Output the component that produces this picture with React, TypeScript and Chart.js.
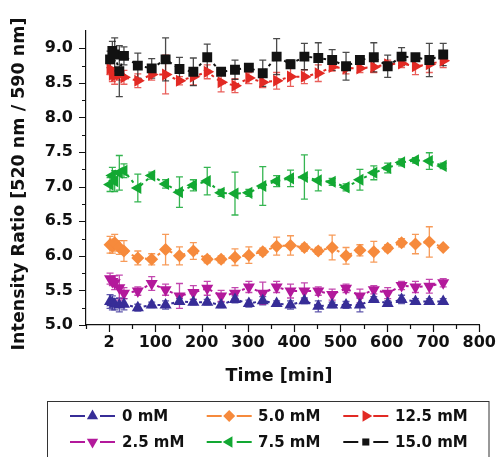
import React, { useEffect, useRef } from 'react';
import { Chart, registerables } from 'chart.js';
import { drawPoint } from 'chart.js/helpers';

Chart.register(...registerables);

// ---- data ----
const TIMES = [2, 7, 12, 22, 32, 62, 92, 122, 152, 182, 212, 242, 272, 302, 332, 362, 392, 422, 452, 482, 512, 542, 572, 602, 632, 662, 692, 722];

const LABELS = ['0 mM', '2.5 mM', '5.0 mM', '7.5 mM', '12.5 mM', '15.0 mM'];

const V_0 = [5.34, 5.32, 5.30, 5.29, 5.30, 5.25, 5.29, 5.29, 5.34, 5.33, 5.33, 5.29, 5.37, 5.31, 5.35, 5.31, 5.29, 5.35, 5.27, 5.29, 5.29, 5.29, 5.37, 5.31, 5.37, 5.34, 5.34, 5.34];
const E_0 = [0.10, 0.10, 0.08, 0.10, 0.08, 0.05, 0.04, 0.06, 0.04, 0.04, 0.04, 0.04, 0.05, 0.05, 0.06, 0.04, 0.06, 0.04, 0.08, 0.04, 0.05, 0.10, 0.04, 0.04, 0.06, 0.04, 0.04, 0.04];

const V_25 = [5.67, 5.63, 5.61, 5.54, 5.46, 5.49, 5.60, 5.51, 5.42, 5.47, 5.53, 5.42, 5.46, 5.55, 5.46, 5.55, 5.49, 5.49, 5.49, 5.44, 5.53, 5.42, 5.51, 5.46, 5.57, 5.55, 5.56, 5.61];
const E_25 = [0.08, 0.06, 0.10, 0.18, 0.08, 0.06, 0.10, 0.08, 0.18, 0.10, 0.10, 0.08, 0.08, 0.08, 0.16, 0.08, 0.10, 0.12, 0.06, 0.08, 0.06, 0.10, 0.06, 0.08, 0.06, 0.08, 0.10, 0.06];

const V_50 = [6.16, 6.14, 6.19, 6.12, 6.07, 5.97, 5.95, 6.09, 6.00, 6.07, 5.95, 5.95, 5.98, 6.01, 6.06, 6.14, 6.15, 6.12, 6.07, 6.12, 6.00, 6.08, 6.06, 6.11, 6.19, 6.17, 6.20, 6.12];
const E_50 = [0.12, 0.10, 0.12, 0.10, 0.15, 0.10, 0.08, 0.22, 0.13, 0.12, 0.05, 0.05, 0.12, 0.12, 0.05, 0.13, 0.14, 0.05, 0.05, 0.18, 0.12, 0.08, 0.15, 0.05, 0.06, 0.14, 0.22, 0.03];

const V_75 = [7.03, 7.16, 7.08, 7.20, 7.23, 6.98, 7.16, 7.04, 6.92, 7.02, 7.08, 6.91, 6.90, 6.91, 7.01, 7.08, 7.12, 7.14, 7.09, 7.07, 6.99, 7.10, 7.20, 7.27, 7.35, 7.38, 7.37, 7.30];
const E_75 = [0.10, 0.12, 0.15, 0.25, 0.10, 0.20, 0.05, 0.06, 0.22, 0.08, 0.20, 0.05, 0.31, 0.05, 0.28, 0.08, 0.12, 0.32, 0.15, 0.05, 0.05, 0.15, 0.10, 0.07, 0.05, 0.04, 0.12, 0.04];

const V_125 = [8.70, 8.62, 8.60, 8.62, 8.58, 8.53, 8.62, 8.62, 8.53, 8.59, 8.66, 8.51, 8.46, 8.57, 8.51, 8.53, 8.59, 8.59, 8.64, 8.73, 8.71, 8.71, 8.73, 8.77, 8.78, 8.74, 8.77, 8.82];
const E_125 = [0.08, 0.10, 0.12, 0.08, 0.10, 0.10, 0.08, 0.28, 0.06, 0.12, 0.10, 0.14, 0.10, 0.08, 0.08, 0.12, 0.14, 0.10, 0.12, 0.06, 0.08, 0.06, 0.08, 0.06, 0.06, 0.12, 0.12, 0.10];

const V_150 = [8.84, 8.96, 8.91, 8.67, 8.89, 8.75, 8.71, 8.84, 8.70, 8.66, 8.87, 8.66, 8.69, 8.72, 8.64, 8.88, 8.77, 8.88, 8.86, 8.83, 8.74, 8.83, 8.87, 8.74, 8.88, 8.87, 8.83, 8.91];
const E_150 = [0.12, 0.14, 0.24, 0.37, 0.13, 0.18, 0.14, 0.31, 0.17, 0.20, 0.19, 0.05, 0.14, 0.05, 0.19, 0.26, 0.06, 0.19, 0.22, 0.15, 0.20, 0.06, 0.21, 0.16, 0.13, 0.05, 0.24, 0.16];

const X_TICKS = [0, 100, 200, 300, 400, 500, 600, 700, 800];
const X_MINOR = [-50, 50, 150, 250, 350, 450, 550, 650, 750];
const Y_TICKS = [5.0, 5.5, 6.0, 6.5, 7.0, 7.5, 8.0, 8.5, 9.0];
const Y_MINOR = [5.25, 5.75, 6.25, 6.75, 7.25, 7.75, 8.25, 8.75];

const LEGEND_ORDER = ['0 mM', '5.0 mM', '12.5 mM', '2.5 mM', '7.5 mM', '15.0 mM'];

// ---- styles ----
const VALUES = [V_0, V_25, V_50, V_75, V_125, V_150];
const ERRORS = [E_0, E_25, E_50, E_75, E_125, E_150];
const STYLES = [
  { color: '#372d97', err: 'rgba(55,45,151,0.8)', pointStyle: 'triangle', rotation: 0, radius: 7, order: 1 },
  { color: '#b3199b', err: 'rgba(179,25,155,0.8)', pointStyle: 'triangle', rotation: 180, radius: 7, order: 2 },
  { color: '#f68a3c', err: 'rgba(246,138,60,0.85)', pointStyle: 'rectRot', rotation: 0, radius: 6.5, order: 3 },
  { color: '#12a832', err: 'rgba(18,168,50,0.85)', pointStyle: 'triangle', rotation: 270, radius: 7, order: 4 },
  { color: '#e22a24', err: 'rgba(226,42,36,0.75)', pointStyle: 'triangle', rotation: 90, radius: 7, order: 6 },
  { color: '#121212', err: 'rgba(30,30,30,0.8)', pointStyle: 'rect', rotation: 0, radius: 7, order: 5 },
];

const FONT = 'DejaVu Sans';

const errorBarsPlugin = {
  id: 'errorBars',
  beforeDatasetsDraw(chart: any) {
    const { ctx } = chart;
    const y = chart.scales.y;
    ctx.save();
    chart.data.datasets.forEach((ds: any, i: number) => {
      const meta = chart.getDatasetMeta(i);
      ctx.strokeStyle = ds.errColor;
      ctx.lineWidth = 1.3;
      ds.data.forEach((p: any, j: number) => {
        const e = ds.errorValues[j];
        const pt = meta.data[j];
        if (!pt) return;
        const px = pt.x;
        const yt = y.getPixelForValue(p.y + e);
        const yb = y.getPixelForValue(p.y - e);
        ctx.beginPath();
        ctx.moveTo(px, yt);
        ctx.lineTo(px, yb);
        ctx.moveTo(px - 3.5, yt);
        ctx.lineTo(px + 3.5, yt);
        ctx.moveTo(px - 3.5, yb);
        ctx.lineTo(px + 3.5, yb);
        ctx.stroke();
      });
    });
    ctx.restore();
  },
};

const decorPlugin = {
  id: 'decor',
  afterDraw(chart: any) {
    const { ctx, chartArea } = chart;
    const x = chart.scales.x;
    const y = chart.scales.y;
    ctx.save();
    // tick marks
    ctx.strokeStyle = '#111';
    ctx.lineWidth = 1.2;
    ctx.beginPath();
    X_TICKS.forEach((v) => {
      const px = Math.round(x.getPixelForValue(v)) + 0.5;
      ctx.moveTo(px, chartArea.bottom);
      ctx.lineTo(px, chartArea.bottom + 7);
    });
    X_MINOR.forEach((v) => {
      const px = Math.round(x.getPixelForValue(v)) + 0.5;
      ctx.moveTo(px, chartArea.bottom);
      ctx.lineTo(px, chartArea.bottom + 4);
    });
    Y_TICKS.forEach((v) => {
      const py = Math.round(y.getPixelForValue(v)) + 0.5;
      ctx.moveTo(chartArea.left, py);
      ctx.lineTo(chartArea.left - 7, py);
    });
    Y_MINOR.forEach((v) => {
      const py = Math.round(y.getPixelForValue(v)) + 0.5;
      ctx.moveTo(chartArea.left, py);
      ctx.lineTo(chartArea.left - 4, py);
    });
    ctx.stroke();

    // axis titles
    ctx.fillStyle = '#111';
    ctx.font = `bold 17.5px "${FONT}"`;
    ctx.textAlign = 'center';
    ctx.textBaseline = 'middle';
    ctx.fillText('Time [min]', 279, 376);
    ctx.save();
    ctx.translate(19, 184);
    ctx.rotate(-Math.PI / 2);
    ctx.fillText('Intensity Ratio [520 nm / 590 nm]', 0, 0);
    ctx.restore();

    // legend
    ctx.strokeStyle = '#333';
    ctx.lineWidth = 1;
    ctx.strokeRect(47.5, 401.5, 441.5, 70);
    const colLine = [70, 206.7, 343.3];
    const colText = [122, 258, 395];
    const rowY = [416, 442];
    ctx.font = `bold 15px "${FONT}"`;
    ctx.textAlign = 'left';
    LEGEND_ORDER.forEach((label, k) => {
      const i = chart.data.datasets.findIndex((d: any) => d.label === label);
      if (i < 0) return;
      const ds = chart.data.datasets[i];
      const st = STYLES[i];
      const r = Math.floor(k / 3);
      const c = k % 3;
      const lx = colLine[c];
      const ly = rowY[r];
      ctx.strokeStyle = ds.borderColor;
      ctx.lineWidth = 2;
      ctx.beginPath();
      ctx.moveTo(lx, ly);
      ctx.lineTo(lx + 15, ly);
      ctx.moveTo(lx + 30, ly);
      ctx.lineTo(lx + 45, ly);
      ctx.stroke();
      ctx.fillStyle = ds.borderColor;
      drawPoint(ctx, {
        pointStyle: st.pointStyle,
        rotation: st.rotation,
        radius: st.pointStyle === 'rect' ? 5 : st.pointStyle === 'rectRot' ? 6 : 6.5,
        borderWidth: 0,
      } as any, lx + 22.5, ly);
      ctx.fillStyle = '#111';
      ctx.fillText(label, colText[c], ly + 1);
    });
    ctx.restore();
  },
};

export default function App() {
  const ref = useRef<HTMLCanvasElement | null>(null);

  useEffect(() => {
    document.body.style.margin = '0';
    if (!ref.current) return;
    const datasets = LABELS.map((label, i) => {
      const st = STYLES[i];
      return {
        label,
        data: TIMES.map((t, j) => ({ x: t, y: VALUES[i][j] })),
        errorValues: ERRORS[i],
        errColor: st.err,
        borderColor: st.color,
        backgroundColor: st.color,
        borderWidth: 2,
        borderDash: [3, 4],
        pointStyle: st.pointStyle,
        rotation: st.rotation,
        pointRadius: st.radius,
        pointBorderWidth: 0,
        pointBackgroundColor: st.color,
        order: st.order,
        tension: 0,
      };
    });
    const tickFont = { family: FONT, weight: 'bold' as const, size: 16 };
    const chart = new Chart(ref.current, {
      type: 'line',
      data: { datasets: datasets as any },
      plugins: [errorBarsPlugin, decorPlugin],
      options: {
        animation: false,
        responsive: false,
        maintainAspectRatio: false,
        layout: { padding: { left: 0, right: 20, top: 31, bottom: 62 } },
        plugins: { legend: { display: false }, tooltip: { enabled: false } },
        scales: {
          x: {
            type: 'linear',
            min: -50,
            max: 800,
            afterBuildTicks: (s: any) => { s.ticks = X_TICKS.map((v) => ({ value: v })); },
            afterFit: (s: any) => { s.height = 70; },
            ticks: {
              callback: (v: any) => (Number(v) === 0 ? '2' : String(v)),
              font: tickFont,
              color: '#111',
              padding: 8,
              maxRotation: 0,
              autoSkip: false,
            },
            grid: { display: false, drawTicks: false },
            border: { display: true, color: '#111', width: 1.2 },
          },
          y: {
            type: 'linear',
            min: 5,
            max: 9.25,
            afterBuildTicks: (s: any) => { s.ticks = Y_TICKS.map((v) => ({ value: v })); },
            afterFit: (s: any) => { s.width = 86; },
            ticks: {
              callback: (v: any) => Number(v).toFixed(1),
              font: tickFont,
              color: '#111',
              padding: 13,
              autoSkip: false,
            },
            grid: { display: false, drawTicks: false },
            border: { display: true, color: '#111', width: 1.2 },
          },
        },
      },
    });
    return () => chart.destroy();
  }, []);

  return (
    <div style={{ width: 504, height: 457, background: '#fff' }}>
      <canvas ref={ref} width={504} height={457} style={{ display: 'block', width: 504, height: 457 }} />
    </div>
  );
}
